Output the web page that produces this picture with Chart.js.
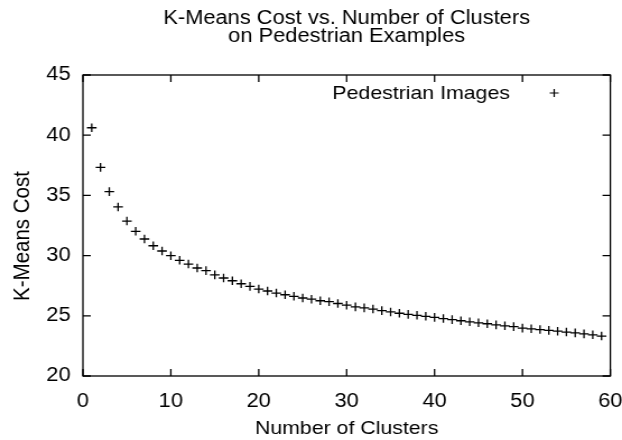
<!DOCTYPE html>
<html>
<head>
<meta charset="utf-8">
<script src="https://cdn.jsdelivr.net/npm/chart.js@4.4.1/dist/chart.umd.min.js"></script>
<style>
  html, body { margin: 0; padding: 0; background: #fff; }
  #c { display: block; width: 622px; height: 440px; }
</style>
</head>
<body>
<canvas id="c" width="555" height="440" style="width:622px;height:440px"></canvas>
<script>
// Number of clusters (x) and K-Means cost (y)
const clusters = [1, 2, 3, 4, 5, 6, 7, 8, 9, 10, 11, 12, 13, 14, 15, 16, 17, 18, 19, 20,
  21, 22, 23, 24, 25, 26, 27, 28, 29, 30, 31, 32, 33, 34, 35, 36, 37, 38, 39, 40,
  41, 42, 43, 44, 45, 46, 47, 48, 49, 50, 51, 52, 53, 54, 55, 56, 57, 58, 59];
const costs = [40.62, 37.33, 35.31, 34.04, 32.87, 32.02, 31.38, 30.82, 30.38, 29.99,
  29.61, 29.30, 28.97, 28.75, 28.40, 28.14, 27.91, 27.66, 27.44, 27.22,
  27.06, 26.89, 26.75, 26.62, 26.48, 26.38, 26.25, 26.17, 26.02, 25.88,
  25.74, 25.66, 25.56, 25.43, 25.32, 25.21, 25.12, 25.04, 24.96, 24.87,
  24.77, 24.68, 24.59, 24.50, 24.42, 24.34, 24.25, 24.17, 24.10, 23.98,
  23.92, 23.86, 23.79, 23.72, 23.65, 23.58, 23.50, 23.42, 23.32];

const titleLines = ['K-Means Cost vs. Number of Clusters', 'on Pedestrian Examples'];
const seriesName = 'Pedestrian Images';
const xTitle = 'Number of Clusters';
const yTitle = 'K-Means Cost';

const FONT = '"Liberation Sans", Arial, Helvetica, sans-serif';

// gnuplot look: box border, inward ticks on all sides, titles and key
const gnuplotFrame = {
  id: 'gnuplotFrame',
  afterDatasetsDraw(chart) {
    const { ctx, chartArea: a, scales: { x, y } } = chart;
    ctx.save();
    ctx.strokeStyle = '#000';
    ctx.lineWidth = 1.3;
    ctx.strokeRect(a.left, a.top, a.right - a.left, a.bottom - a.top);
    const len = 7;
    ctx.beginPath();
    x.ticks.forEach(t => {
      const px = x.getPixelForValue(t.value);
      ctx.moveTo(px, a.bottom); ctx.lineTo(px, a.bottom - len);
      ctx.moveTo(px, a.top); ctx.lineTo(px, a.top + len);
    });
    y.ticks.forEach(t => {
      const py = y.getPixelForValue(t.value);
      ctx.moveTo(a.left, py); ctx.lineTo(a.left + len, py);
      ctx.moveTo(a.right, py); ctx.lineTo(a.right - len, py);
    });
    ctx.stroke();

    // title, centred over the plot area
    const cx = (a.left + a.right) / 2;
    ctx.fillStyle = '#000';
    ctx.textAlign = 'center';
    ctx.textBaseline = 'middle';
    ctx.font = '19.5px ' + FONT;
    ctx.fillText(titleLines[0], cx, 19);
    ctx.fillText(titleLines[1], cx, 37);

    // y label, sits a little below the middle like gnuplot's
    ctx.save();
    ctx.translate(20, 236);
    ctx.rotate(-Math.PI / 2);
    ctx.font = '20.5px ' + FONT;
    ctx.fillText(yTitle, 0, 0);
    ctx.restore();

    // key
    ctx.textAlign = 'right';
    ctx.font = '19px ' + FONT;
    ctx.fillText(seriesName, 455, 94);
    const mx = 494.5, my = 93, r = 4;
    ctx.lineWidth = 1.2;
    ctx.beginPath();
    ctx.moveTo(mx - r, my); ctx.lineTo(mx + r, my);
    ctx.moveTo(mx, my - r); ctx.lineTo(mx, my + r);
    ctx.stroke();
    ctx.restore();
  }
};

new Chart(document.getElementById('c'), {
  type: 'scatter',
  data: {
    datasets: [{
      label: seriesName,
      data: clusters.map((k, i) => ({ x: k, y: costs[i] })),
      pointStyle: 'cross',
      pointRadius: 4.3,
      borderColor: '#000',
      backgroundColor: '#000',
      borderWidth: 1.3
    }]
  },
  options: {
    responsive: false,
    animation: false,
    devicePixelRatio: 1,
    layout: { padding: { top: 75, right: 0, bottom: 0, left: 0 } },
    plugins: {
      legend: { display: false },
      title: { display: false },
      tooltip: { enabled: false }
    },
    scales: {
      x: {
        type: 'linear',
        min: 0,
        max: 60,
        border: { display: false },
        grid: { display: false, drawTicks: false },
        ticks: { stepSize: 10, color: '#000', padding: 14, font: { family: FONT, size: 19.5 } },
        title: { display: true, text: xTitle, color: '#000', padding: { top: 0, bottom: 0 }, font: { family: FONT, size: 19 } },
        afterFit: s => {
          s.height = 64;
          // keep the plot box where the reference has it
          s.paddingLeft = 0;
          s.paddingRight = 10.4;
        }
      },
      y: {
        min: 20,
        max: 45,
        border: { display: false },
        grid: { display: false, drawTicks: false },
        ticks: { stepSize: 5, color: '#000', padding: 11, font: { family: FONT, size: 19.5 } },
        title: { display: false },
        afterFit: s => {
          s.width = 74;
          s.paddingTop = 0;
          s.paddingBottom = 0;
        }
      }
    }
  },
  plugins: [gnuplotFrame]
});
</script>
</body>
</html>
